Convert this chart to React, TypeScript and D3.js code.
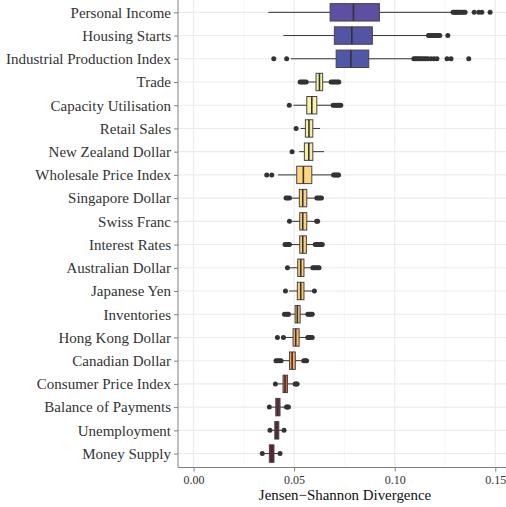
import React, { useEffect, useRef } from "react";
import * as d3 from "d3";

const categories = [
  "Personal Income", "Housing Starts", "Industrial Production Index", "Trade",
  "Capacity Utilisation", "Retail Sales", "New Zealand Dollar", "Wholesale Price Index",
  "Singapore Dollar", "Swiss Franc", "Interest Rates", "Australian Dollar",
  "Japanese Yen", "Inventories", "Hong Kong Dollar", "Canadian Dollar",
  "Consumer Price Index", "Balance of Payments", "Unemployment", "Money Supply",
];

const whiskerLow = [0.0372, 0.0447, 0.0483, 0.0568, 0.0497, 0.0532, 0.0525, 0.042, 0.0485, 0.049, 0.0485, 0.048, 0.0475, 0.0478, 0.0455, 0.0442, 0.042, 0.039, 0.039, 0.0355];
const q1 = [0.0679, 0.07, 0.0709, 0.0609, 0.0563, 0.0556, 0.0551, 0.0513, 0.0526, 0.0528, 0.0528, 0.0518, 0.0516, 0.0505, 0.0495, 0.0477, 0.0445, 0.0409, 0.0404, 0.0377];
const median = [0.0795, 0.0787, 0.0782, 0.0626, 0.0588, 0.0574, 0.0573, 0.0546, 0.0543, 0.0543, 0.0543, 0.0533, 0.0533, 0.0516, 0.0508, 0.049, 0.0455, 0.0419, 0.0414, 0.0389];
const q3 = [0.0924, 0.0889, 0.0871, 0.0642, 0.0613, 0.0593, 0.0593, 0.0588, 0.0563, 0.0563, 0.0561, 0.0549, 0.0549, 0.053, 0.0525, 0.0506, 0.0467, 0.043, 0.0424, 0.04];
const whiskerHigh = [0.128, 0.116, 0.1088, 0.0678, 0.0688, 0.0629, 0.0649, 0.069, 0.0608, 0.0605, 0.06, 0.0588, 0.0595, 0.0564, 0.0563, 0.0545, 0.0502, 0.046, 0.0445, 0.0425];

const outliers = [
  [0.129, 0.1297, 0.1303, 0.1308, 0.1314, 0.132, 0.1327, 0.1335, 0.1343, 0.135, 0.1395, 0.1418, 0.1433, 0.1474],
  [0.1168, 0.1175, 0.1182, 0.119, 0.1198, 0.1207, 0.1215, 0.1224, 0.1264],
  [0.0399, 0.0463, 0.1095, 0.1103, 0.111, 0.1118, 0.1126, 0.1135, 0.1145, 0.1155, 0.1165, 0.118, 0.1195, 0.121, 0.126, 0.128, 0.1368],
  [0.053, 0.0537, 0.0545, 0.0552, 0.056, 0.0684, 0.0692, 0.07, 0.0708, 0.0716, 0.0722],
  [0.0476, 0.0694, 0.0702, 0.071, 0.0718, 0.0726, 0.0732],
  [0.051],
  [0.049],
  [0.0364, 0.0389, 0.0696, 0.0703, 0.071, 0.0716, 0.0721],
  [0.046, 0.0468, 0.0477, 0.0613, 0.062, 0.0628, 0.0636],
  [0.0477, 0.0612, 0.0617],
  [0.0455, 0.0462, 0.047, 0.0477, 0.0605, 0.0612, 0.062, 0.0628, 0.0636, 0.064],
  [0.0467, 0.0593, 0.06, 0.0608, 0.0616, 0.0624],
  [0.0457, 0.0601],
  [0.0452, 0.046, 0.0468, 0.0472, 0.0568, 0.0575, 0.0582, 0.059],
  [0.0417, 0.0447, 0.0568, 0.0575, 0.0582, 0.059],
  [0.041, 0.0418, 0.0427, 0.0435, 0.0548, 0.0555, 0.0562],
  [0.0407, 0.0505, 0.051, 0.0515],
  [0.0377, 0.0462, 0.0467, 0.0472],
  [0.038, 0.045],
  [0.0342, 0.043],
];

const fills = [
  "#5e4fa2", "#5453a4", "#4f58a8", "#f7f4a6", "#fbf2a9", "#f9eca3", "#f9eba3", "#fdd57f",
  "#fdd47e", "#fdd27c", "#fdd07b", "#fdcd78", "#fdca75", "#fdc26e", "#fdb867", "#fba75b",
  "#ea5f3f", "#8e2d52", "#7e2045", "#841444",
];

const xTicks = [0, 0.05, 0.1, 0.15];
const xMinor = [0.025, 0.075, 0.125];

const serif = "'Liberation Serif', 'Times New Roman', serif";

const App: React.FC = () => {
  const ref = useRef<SVGSVGElement>(null);

  useEffect(() => {
    if (!ref.current) return;
    const svg = d3.select(ref.current);
    svg.selectAll("*").remove();

    const width = 506;
    const height = 507;
    const panel = { left: 178, right: 506, top: -1.6, bottom: 467.5 };

    const x = d3.scaleLinear().domain([0, 0.15]).range([193.5, 495.3]);
    const y = d3.scalePoint<string>().domain(categories).range([panel.top, panel.bottom]).padding(0.6);
    const boxH = y.step() * 0.75;

    svg.attr("width", width).attr("height", height);

    // grid
    const grid = svg.append("g");
    grid.selectAll(".minor").data(xMinor).enter().append("line")
      .attr("x1", (d) => x(d)).attr("x2", (d) => x(d))
      .attr("y1", panel.top).attr("y2", panel.bottom)
      .attr("stroke", "#f2f2f2").attr("stroke-width", 0.6);
    grid.selectAll(".major").data(xTicks).enter().append("line")
      .attr("x1", (d) => x(d)).attr("x2", (d) => x(d))
      .attr("y1", panel.top).attr("y2", panel.bottom)
      .attr("stroke", "#ebebeb").attr("stroke-width", 1.1);
    grid.selectAll(".hmajor").data(categories).enter().append("line")
      .attr("x1", panel.left).attr("x2", panel.right)
      .attr("y1", (d) => y(d)!).attr("y2", (d) => y(d)!)
      .attr("stroke", "#ebebeb").attr("stroke-width", 1.1);

    // boxes
    const rows = svg.append("g").selectAll("g").data(categories).enter().append("g");
    rows.append("line")
      .attr("x1", (d, i) => x(whiskerLow[i])).attr("x2", (d, i) => x(whiskerHigh[i]))
      .attr("y1", (d) => y(d)!).attr("y2", (d) => y(d)!)
      .attr("stroke", "#333333").attr("stroke-width", 1);
    rows.append("rect")
      .attr("x", (d, i) => x(q1[i]))
      .attr("y", (d) => y(d)! - boxH / 2)
      .attr("width", (d, i) => x(q3[i]) - x(q1[i]))
      .attr("height", boxH)
      .attr("fill", (d, i) => fills[i])
      .attr("stroke", "#444444").attr("stroke-width", 1);
    rows.append("line")
      .attr("x1", (d, i) => x(median[i])).attr("x2", (d, i) => x(median[i]))
      .attr("y1", (d) => y(d)! - boxH / 2).attr("y2", (d) => y(d)! + boxH / 2)
      .attr("stroke", "#333333").attr("stroke-width", 1.6);
    rows.selectAll("circle")
      .data((d, i) => outliers[i].map((v) => ({ v, c: d })))
      .enter().append("circle")
      .attr("cx", (p) => x(p.v)).attr("cy", (p) => y(p.c)!)
      .attr("r", 2.5).attr("fill", "#333333");

    // axes
    const axisColor = "#7f7f7f";
    const yAxis = svg.append("g").attr("transform", `translate(${panel.left},0)`)
      .call(d3.axisLeft(y).tickSize(4).tickPadding(3));
    yAxis.select(".domain").attr("d", `M0,${panel.top}V${panel.bottom}`).attr("stroke", axisColor);
    yAxis.selectAll(".tick line").attr("stroke", axisColor);
    yAxis.selectAll(".tick text")
      .attr("fill", "#333333").attr("font-family", serif)
      .attr("font-size", 15);

    const xAxis = svg.append("g").attr("transform", `translate(0,${panel.bottom})`)
      .call(d3.axisBottom(x).tickValues(xTicks).tickFormat(d3.format(".2f")).tickSize(4).tickPadding(4));
    xAxis.select(".domain").attr("d", `M${panel.left},0H${panel.right}`).attr("stroke", axisColor);
    xAxis.selectAll(".tick line").attr("stroke", axisColor);
    xAxis.selectAll(".tick text")
      .attr("fill", "#333333").attr("font-family", serif)
      .attr("font-size", 12);

    svg.append("text")
      .attr("x", (panel.left + panel.right) / 2 + 3)
      .attr("y", 500)
      .attr("text-anchor", "middle")
      .attr("font-family", serif)
      .attr("font-size", 14.9)
      .attr("fill", "#111111")
      .text("Jensen\u2212Shannon Divergence");
  }, []);

  return <svg ref={ref} style={{ position: "absolute", left: 0, top: 0 }}></svg>;
};

export default App;
